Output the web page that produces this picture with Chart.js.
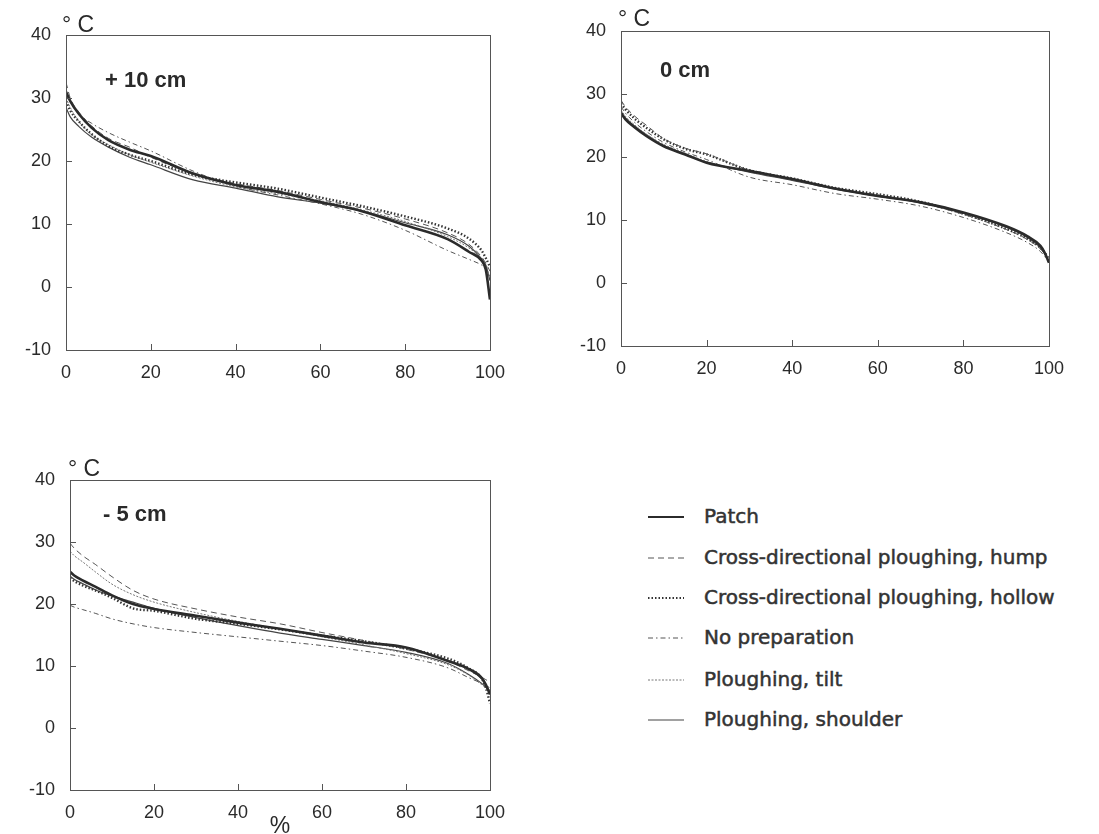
<!DOCTYPE html>
<html>
<head>
<meta charset="utf-8">
<script src="https://cdn.jsdelivr.net/npm/chart.js@4.4.1/dist/chart.umd.min.js"></script>
<style>
    body { margin: 0; background: #fff; width: 1099px; height: 834px; overflow: hidden; position: relative; }
    .panel { position: absolute; }
    .legend { position: absolute; left: 644px; top: 496px; font-family: "DejaVu Sans", sans-serif; font-size: 20px; color: #333; -webkit-text-stroke: 0.5px #333; }
    .legend .row { position: absolute; left: 0; height: 40px; line-height: 40px; white-space: nowrap; }
    .legend svg { position: absolute; left: 4px; top: 19px; }
    .legend span { position: absolute; left: 60px; top: 0; }
</style>
</head>
<body>
<div class="panel" style="left:0;top:0;width:540px;height:390px"><canvas id="chartPlus10"></canvas></div>
<div class="panel" style="left:555px;top:0;width:544px;height:390px"><canvas id="chartZero"></canvas></div>
<div class="panel" style="left:0;top:450px;width:540px;height:384px"><canvas id="chartMinus5"></canvas></div>
<div class="legend" id="legend"></div>

<script>
// --- Data: temperature duration curves (°C vs % of time exceeded) ---

const pct = [0, 1, 3, 6, 10, 15, 20, 30, 40, 50, 60, 70, 80, 90, 95, 98, 99, 100];

const seriesNames = [
    'Patch',
    'Cross-directional ploughing, hump',
    'Cross-directional ploughing, hollow',
    'No preparation',
    'Ploughing, tilt',
    'Ploughing, shoulder'
];

// +10 cm
const plus10Patch    = [31, 29.5, 27.5, 25.3, 23.3, 21.8, 20.8, 18.0, 16.2, 15.1, 13.5, 12.0, 9.8, 7.6, 5.6, 4.2, 2.8, -2.0];
const plus10Hump     = [32.5, 30, 27.8, 25.6, 23.6, 22.2, 20.6, 18.0, 16.4, 15.3, 13.9, 12.5, 10.8, 8.6, 6.8, 4.8, 3.8, 2.5];
const plus10Hollow   = [29.5, 28, 26.3, 24.3, 22.4, 21.0, 20.0, 17.8, 16.6, 15.6, 14.2, 12.8, 11.2, 9.3, 7.7, 5.8, 4.6, 3.2];
const plus10NoPrep   = [31, 29.5, 27.5, 26, 24.5, 23, 21.6, 18.4, 16.0, 14.6, 13.2, 11.5, 9.0, 5.8, 4.4, 3.5, 3.0, 1.5];
const plus10Tilt     = [30, 28.5, 26.3, 24.2, 22.6, 21.0, 19.8, 17.6, 15.9, 14.8, 13.7, 12.2, 10.4, 8.0, 6.2, 4.5, 3.5, 1.5];
const plus10Shoulder = [28.5, 27, 25.5, 23.8, 22.2, 20.6, 19.4, 17.0, 15.7, 14.3, 13.3, 12.0, 10.2, 8.3, 6.5, 4.5, 3.5, 1.0];

// 0 cm
const zeroPatch    = [27, 26, 24.8, 23.3, 21.7, 20.4, 19.1, 17.8, 16.5, 15.0, 13.8, 12.8, 11.2, 9.0, 7.4, 5.9, 4.8, 3.2];
const zeroHump     = [29, 28, 26.6, 25, 22.9, 21.4, 20.5, 17.9, 16.5, 15.0, 14.0, 12.7, 10.9, 8.5, 6.9, 5.4, 4.6, 3.6];
const zeroHollow   = [28.5, 27.6, 26.2, 24.6, 22.8, 21.3, 20.4, 17.9, 16.6, 15.1, 14.1, 12.9, 11.0, 8.6, 7.0, 5.6, 4.8, 3.8];
const zeroNoPrep   = [28, 27, 25.6, 24, 22.3, 20.8, 19.6, 16.8, 15.6, 14.2, 13.3, 12.2, 10.4, 8.0, 6.4, 5.0, 4.2, 3.2];
const zeroTilt     = [27.5, 26.5, 25.2, 23.6, 22.0, 20.6, 19.3, 17.7, 16.4, 15.0, 13.9, 12.8, 11.1, 8.8, 7.2, 5.6, 4.6, 3.4];
const zeroShoulder = [27.2, 26.2, 25, 23.5, 21.8, 20.5, 19.2, 17.6, 16.3, 14.9, 13.8, 12.7, 11.1, 8.9, 7.2, 5.6, 4.6, 3.3];

// -5 cm
const minus5Patch    = [25.2, 24.6, 23.8, 22.8, 21.4, 20.0, 19.2, 18.1, 17.0, 16.0, 14.9, 13.8, 13.0, 10.8, 9.5, 8.1, 7.0, 5.4];
const minus5Hump     = [29.8, 29, 27.8, 26.4, 24.4, 22.2, 20.8, 19.2, 17.9, 16.8, 15.4, 14.1, 12.7, 10.8, 9.2, 8.2, 7.8, 7.4];
const minus5Hollow   = [24.2, 23.7, 23, 22.2, 21.0, 19.3, 18.9, 17.6, 16.8, 15.9, 14.9, 14.0, 12.8, 11.2, 9.6, 8.0, 6.5, 4.0];
const minus5NoPrep   = [19.8, 19.5, 19.1, 18.5, 17.6, 16.8, 16.2, 15.4, 14.7, 14.0, 13.3, 12.4, 11.4, 9.7, 8.1, 7.2, 6.8, 6.5];
const minus5Tilt     = [28.5, 27.8, 26.8, 25.2, 23.2, 21.5, 20.3, 18.6, 17.2, 16.0, 14.7, 13.4, 12.0, 10.2, 8.5, 7.0, 6.5, 6.0];
const minus5Shoulder = [24.5, 24.0, 23.3, 22.3, 21.3, 20.3, 19.3, 17.8, 16.5, 15.3, 14.3, 13.3, 12.2, 10.4, 8.6, 7.2, 6.6, 6.0];

const yTicks = [-10, 0, 10, 20, 30, 40];
const xTicks = [0, 20, 40, 60, 80, 100];

// --- Line styles, same order as seriesNames ---
const seriesStyles = [
    { color: '#2b2b2b', width: 2.6, dash: [] },             // Patch
    { color: '#555',    width: 1,   dash: [6, 4] },         // hump
    { color: '#333',    width: 2.4, dash: [1.5, 2] },       // hollow
    { color: '#555',    width: 1,   dash: [5, 3, 1.5, 3] }, // no preparation
    { color: '#777',    width: 1,   dash: [2, 1.5] },       // tilt
    { color: '#444',    width: 1.2, dash: [] }              // shoulder
];

const FONT = "'Liberation Sans', Arial, sans-serif";

function buildDatasets(seriesValues) {
    return seriesValues.map((vals, i) => ({
        label: seriesNames[i],
        data: pct.map((p, j) => ({ x: p, y: vals[j] })),
        borderColor: seriesStyles[i].color,
        borderWidth: seriesStyles[i].width,
        borderDash: seriesStyles[i].dash,
        pointRadius: 0,
        fill: false,
        cubicInterpolationMode: 'monotone'
    }));
}

// Box frame, inward tick marks and panel captions
const framePlugin = {
    id: 'frame',
    afterDraw(chart, args, opts) {
        const { ctx, chartArea: a, scales } = chart;
        ctx.save();
        ctx.strokeStyle = '#555';
        ctx.lineWidth = 1;
        ctx.setLineDash([]);
        ctx.strokeRect(a.left + 0.5, a.top + 0.5, a.right - a.left, a.bottom - a.top);

        ctx.beginPath();
        yTicks.slice(1, -1).forEach(v => {
            const y = Math.round(scales.y.getPixelForValue(v)) + 0.5;
            ctx.moveTo(a.left, y);
            ctx.lineTo(a.left + 6, y);
        });
        xTicks.slice(1, -1).forEach(v => {
            const x = Math.round(scales.x.getPixelForValue(v)) + 0.5;
            ctx.moveTo(x, a.bottom);
            ctx.lineTo(x, a.bottom - 6);
        });
        ctx.stroke();

        ctx.fillStyle = '#2a2a2a';
        ctx.textBaseline = 'alphabetic';
        ctx.textAlign = 'left';
        ctx.font = '23px ' + FONT;
        ctx.fillText('\u00B0 C', a.left + opts.unitDx, a.top + opts.unitDy);

        ctx.font = 'bold 22px ' + FONT;
        ctx.fillText(opts.caption, a.left + opts.capDx, a.top + opts.capDy);

        if (opts.xTitle) {
            ctx.font = '23px ' + FONT;
            ctx.textAlign = 'center';
            ctx.fillText(opts.xTitle, (a.left + a.right) / 2, a.bottom + 43);
        }
        ctx.restore();
    }
};

function makeChart(canvasId, seriesValues, layout) {
    const ctx = document.getElementById(canvasId);
    if (!ctx) {
        console.error('Canvas not found: ' + canvasId);
        return;
    }
    return new Chart(ctx, {
        type: 'line',
        data: { datasets: buildDatasets(seriesValues) },
        plugins: [framePlugin],
        options: {
            responsive: true,
            maintainAspectRatio: false,
            animation: false,
            layout: { padding: { top: layout.padTop, right: layout.padRight, left: 0, bottom: 0 } },
            scales: {
                x: {
                    type: 'linear',
                    min: 0, max: 100,
                    afterBuildTicks: s => { s.ticks = xTicks.map(v => ({ value: v })); },
                    afterFit: s => { s.height = layout.xHeight; },
                    grid: { display: false, drawTicks: false },
                    border: { display: false },
                    ticks: { color: '#2a2a2a', padding: 12, maxRotation: 0, font: { family: FONT, size: 18 } }
                },
                y: {
                    min: -10, max: 40,
                    afterBuildTicks: s => { s.ticks = yTicks.map(v => ({ value: v })); },
                    afterFit: s => { s.width = layout.yWidth; },
                    grid: { display: false, drawTicks: false },
                    border: { display: false },
                    ticks: { color: '#2a2a2a', padding: 15, font: { family: FONT, size: 18 } }
                }
            },
            plugins: {
                legend: { display: false },
                tooltip: { enabled: false },
                frame: layout.frame
            }
        }
    });
}

makeChart('chartPlus10',
    [plus10Patch, plus10Hump, plus10Hollow, plus10NoPrep, plus10Tilt, plus10Shoulder],
    { padTop: 35, padRight: 50, yWidth: 66, xHeight: 40,
      frame: { caption: '+ 10 cm', capDx: 39, capDy: 52, unitDx: -4, unitDy: -3 } });

makeChart('chartZero',
    [zeroPatch, zeroHump, zeroHollow, zeroNoPrep, zeroTilt, zeroShoulder],
    { padTop: 31, padRight: 50, yWidth: 66, xHeight: 44,
      frame: { caption: '0 cm', capDx: 39, capDy: 46, unitDx: -3, unitDy: -5 } });

makeChart('chartMinus5',
    [minus5Patch, minus5Hump, minus5Hollow, minus5NoPrep, minus5Tilt, minus5Shoulder],
    { padTop: 30, padRight: 50, yWidth: 70, xHeight: 44,
      frame: { caption: '- 5 cm', capDx: 33, capDy: 41, unitDx: -2, unitDy: -4, xTitle: '%' } });

// --- Legend (shared by all three panels) ---
const legendEl = document.getElementById('legend');
const legendRowTop = [0, 41, 81, 121, 163, 203];
seriesNames.forEach((name, i) => {
    const st = seriesStyles[i];
    const row = document.createElement('div');
    row.className = 'row';
    row.style.top = legendRowTop[i] + 'px';
    row.innerHTML =
        '<svg width="36" height="4"><line x1="0" y1="2" x2="36" y2="2" stroke="' + st.color +
        '" stroke-width="' + Math.min(st.width, 2.2) + '" stroke-dasharray="' + (st.dash.join(' ') || 'none') +
        '"/></svg><span>' + name + '</span>';
    legendEl.appendChild(row);
});
</script>
</body>
</html>
